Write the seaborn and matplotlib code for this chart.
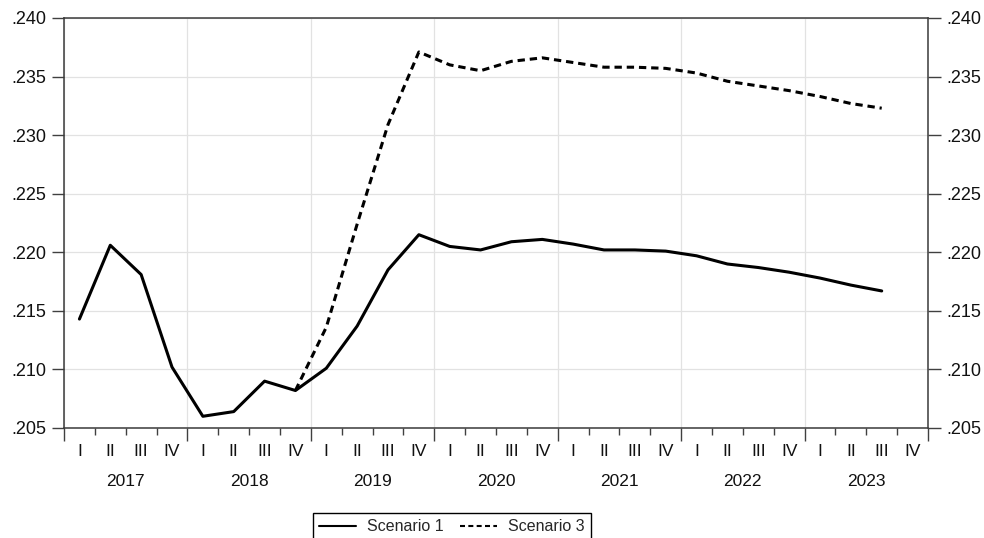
import matplotlib
matplotlib.use("Agg")
import matplotlib.pyplot as plt
import matplotlib.transforms as mtransforms
from matplotlib.ticker import FixedLocator, FuncFormatter
import numpy as np
import pandas as pd
import seaborn as sns

# Quarterly periods 2017Q1 .. 2023Q4
years = ["2017", "2018", "2019", "2020", "2021", "2022", "2023"]
quarters = ["I", "II", "III", "IV"]

scenario1 = [0.2143, 0.2206, 0.2181, 0.2102, 0.2060, 0.2064, 0.2090, 0.2082,
             0.2101, 0.2137, 0.2185, 0.2215,
             0.2205, 0.2202, 0.2209, 0.2211,
             0.2207, 0.2202, 0.2202, 0.2201,
             0.2197, 0.2190, 0.2187, 0.2183,
             0.2178, 0.2172, 0.2167]
scenario3_start = 7  # 2018Q4
scenario3 = [0.2082, 0.2136, 0.2224, 0.2309, 0.2371,
             0.2360, 0.2355, 0.2363, 0.2366,
             0.2362, 0.2358, 0.2358, 0.2357,
             0.2353, 0.2346, 0.2342, 0.2338,
             0.2333, 0.2327, 0.2323]

y_ticks = [0.205, 0.210, 0.215, 0.220, 0.225, 0.230, 0.235, 0.240]

# Long-format table; each observation sits in the middle of its quarter
rows = []
for i, v in enumerate(scenario1):
    rows.append({"t": i + 0.5, "value": v, "series": "Scenario 1"})
for i, v in enumerate(scenario3):
    rows.append({"t": scenario3_start + i + 0.5, "value": v, "series": "Scenario 3"})
df = pd.DataFrame(rows)

sns.set_theme(style="white")
plt.rcParams["font.family"] = ["Liberation Sans", "DejaVu Sans"]

fig = plt.figure(figsize=(9.84, 5.38), dpi=100)
ax = fig.add_axes([64 / 984, 1 - 428 / 538, (928 - 64) / 984, (428 - 18) / 538])

sns.lineplot(data=df, x="t", y="value", style="series",
             dashes={"Scenario 1": "", "Scenario 3": (2.4, 1.6)},
             color="black", linewidth=2.2, legend=False, ax=ax)

n_q = len(years) * 4
ax.set_xlim(0, n_q)
ax.set_ylim(0.205, 0.240)

# Gridlines at year boundaries and y ticks
ax.xaxis.set_major_locator(FixedLocator(np.arange(0, n_q + 1, 4)))
ax.xaxis.set_minor_locator(FixedLocator(np.arange(0, n_q + 1, 1)))
ax.set_xticklabels([])
ax.yaxis.set_major_locator(FixedLocator(y_ticks))
ax.yaxis.set_major_formatter(FuncFormatter(lambda v, p: f"{v:.3f}".lstrip("0")))
ax.grid(True, which="major", color="#e2e2e2", linewidth=0.9)
ax.set_axisbelow(True)

ax.tick_params(axis="x", which="major", direction="out", length=9, width=1,
               color="#404040", bottom=True)
ax.tick_params(axis="x", which="minor", direction="out", length=5, width=1,
               color="#404040", bottom=True)
ax.tick_params(axis="y", which="major", direction="out", length=9, width=1,
               color="#404040", left=True, right=True, labelleft=True,
               labelright=True, labelsize=13, pad=4, labelcolor="#111111")

for s in ax.spines.values():
    s.set_visible(True)
    s.set_color("#3a3a3a")
    s.set_linewidth(1.1)

ax.set_xlabel("")
ax.set_ylabel("")

# Quarter and year labels under the axis
trans = mtransforms.blended_transform_factory(ax.transData, fig.transFigure)
for yi, yr in enumerate(years):
    for qi, q in enumerate(quarters):
        ax.text(yi * 4 + qi + 0.5, 1 - 452 / 538, q, transform=trans,
                ha="center", va="center", fontsize=12.5, color="#111111")
    ax.text(yi * 4 + 2, 1 - 482 / 538, yr, transform=trans,
            ha="center", va="center", fontsize=12.5, color="#111111")

lines = ax.get_lines()
leg = fig.legend(lines[:2], ["Scenario 1", "Scenario 3"], ncol=2,
                 loc="upper center", bbox_to_anchor=(452 / 984, 1 - 513 / 538),
                 borderaxespad=0.0,
                 frameon=True, fancybox=False, edgecolor="black",
                 fontsize=11.5, handlelength=2.3, columnspacing=1.0,
                 handletextpad=0.7, borderpad=0.4, framealpha=1)
leg.get_frame().set_linewidth(1.0)
for h in leg.get_lines():
    h.set_linewidth(1.5)

fig.savefig("out.png", dpi=100)
